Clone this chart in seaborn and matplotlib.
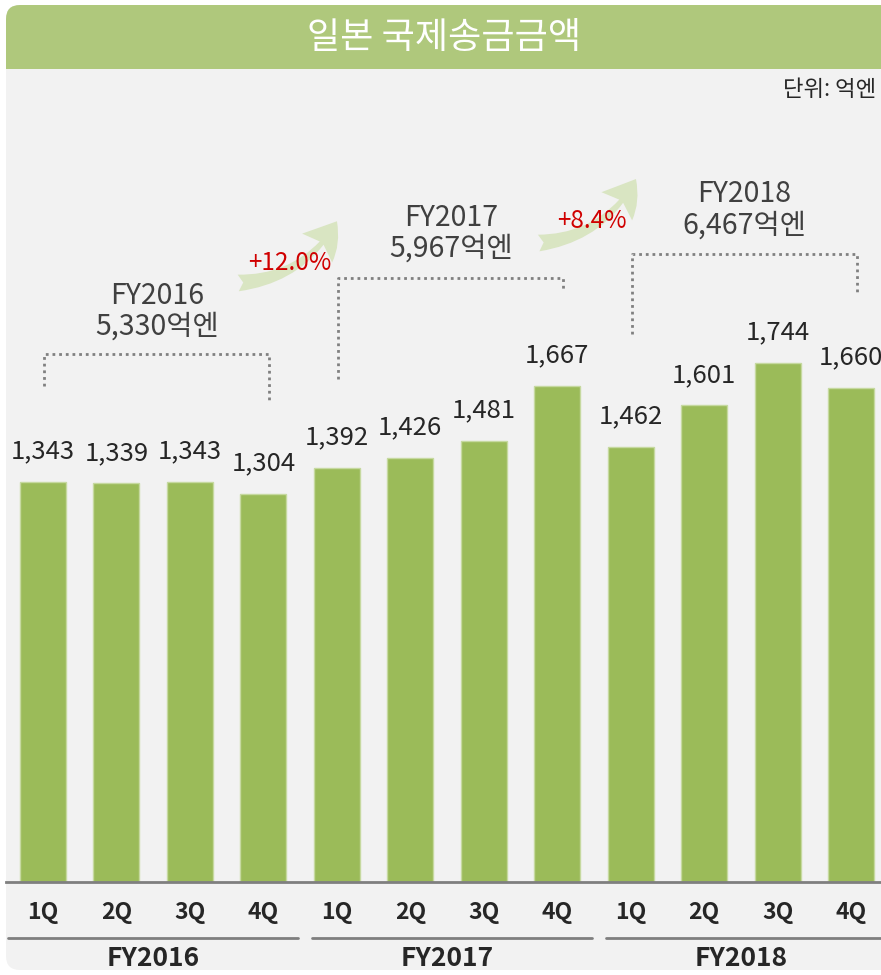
import matplotlib
matplotlib.use("Agg")
import matplotlib.pyplot as plt
import matplotlib.transforms as mtransforms
from matplotlib.patches import FancyBboxPatch, Rectangle, FancyArrowPatch
import pandas as pd
import seaborn as sns

# Data
years = ["FY2016", "FY2017", "FY2018"]
quarters = ["1Q", "2Q", "3Q", "4Q"]
values = [1343, 1339, 1343, 1304, 1392, 1426, 1481, 1667, 1462, 1601, 1744, 1660]
year_totals = ["5,330억엔", "5,967억엔", "6,467억엔"]
growth_labels = ["+12.0%", "+8.4%"]

df = pd.DataFrame({
    "period": [f"{y} {q}" for y in years for q in quarters],
    "quarter": quarters * len(years),
    "value": values,
})

sns.set_style("white")
plt.rcParams["font.family"] = ["Noto Sans CJK KR", "DejaVu Sans"]

W, H = 881, 975
fig = plt.figure(figsize=(W / 100, H / 100), dpi=100)
px = mtransforms.Affine2D().scale(1 / 100) + fig.dpi_scale_trans  # pixel coords

#Background panel + title band (kept below the axes)
bg = "#f2f2f2"
fig.patches.append(FancyBboxPatch((6, 5), 900, 965, boxstyle="round,pad=0,rounding_size=14",
                                  transform=px, fc=bg, ec="none", zorder=-10))
fig.patches.append(FancyBboxPatch((6, 880), 900, 90, boxstyle="round,pad=0,rounding_size=14",
                                  transform=px, fc="#afc87c", ec="none", zorder=-9))
fig.patches.append(Rectangle((6, 850), 900, 56, transform=px, fc=bg, ec="none", zorder=-8))
fig.text(444 / W, 1 - 38 / H, "일본 국제송금금액", color="white", fontsize=26,
         ha="center", va="center")
fig.text(876 / W, 1 - 89 / H, "단위: 억엔", color="#262626", fontsize=16,
         ha="right", va="center")

#Bars
ax = fig.add_axes([6 / W, 1 - 882 / H, 875 / W, 812 / H])
ax.set_facecolor("none")
sns.barplot(data=df, x="period", y="value", color="#9bbb59", saturation=1, width=0.626,
            edgecolor="#c6d9a0", linewidth=1, ax=ax)
ax.set_xlim(-0.504, 11.408)
ax.set_ylim(0, 2728)
ax.set_xlabel("")
ax.set_ylabel("")
ax.set_yticks([])
for s in ["top", "right", "left"]:
    ax.spines[s].set_visible(False)
ax.spines["bottom"].set_color("#7f7f7f")
ax.spines["bottom"].set_linewidth(2)
ax.set_xticks(range(len(values)))
ax.set_xticklabels(df["quarter"], fontsize=16.5, fontweight="bold", color="#262626")
ax.tick_params(axis="x", length=0, pad=14)

for i, v in enumerate(values):
    ax.annotate(f"{v:,}", (i, v), xytext=(0, 22), textcoords="offset points",
                ha="center", va="center", fontsize=18.5, color="#262626")

#Year brackets and totals
bracket_top = [1775, 2030, 2111]
bracket_left = [1668, 1691, 1842]
bracket_right = [1617, 1987, 1977]
header_y = [1918, 2180, 2258]
for g in range(3):
    x0, x1 = 4 * g + 0.02, 4 * g + 3.08
    ax.plot([x0, x0, x1, x1], [bracket_left[g], bracket_top[g], bracket_top[g], bracket_right[g]],
            color="#808080", lw=2, ls=(0, (1, 1.4)), clip_on=False)
    ax.text(4 * g + 1.55, header_y[g], f"{years[g]}\n{year_totals[g]}", ha="center", va="center",
            fontsize=20.5, color="#404040", linespacing=1.05)

#Growth arrows
arrows = [((2.62, 2012), (4.02, 2228)), ((6.71, 2146), (8.09, 2370))]
growth_pos = [(3.36, 2080), (7.47, 2220)]
for (a, b), (tx, ty), lab in zip(arrows, growth_pos, growth_labels):
    ax.add_patch(FancyArrowPatch(a, b, connectionstyle="arc3,rad=0.28",
                                 arrowstyle="fancy,head_length=1.0,head_width=1.25,tail_width=0.5",
                                 mutation_scale=24, color="#d9e5c2", lw=0, clip_on=False))
    ax.text(tx, ty, lab, color="#d00000", fontsize=17.5, ha="center", va="center")

#Fiscal year groups under axis
group_start = [-0.48, 3.66, 7.66]
group_end = [3.47, 7.47, 11.41]
for g in range(3):
    ax.plot([group_start[g], group_end[g]], [-188, -188], color="#7f7f7f", lw=2, clip_on=False)
    ax.text(4 * g + 1.5, -256, years[g], ha="center", va="center", fontsize=19,
            fontweight="bold", color="#262626")

fig.savefig("out.png", dpi=100, facecolor="white")
